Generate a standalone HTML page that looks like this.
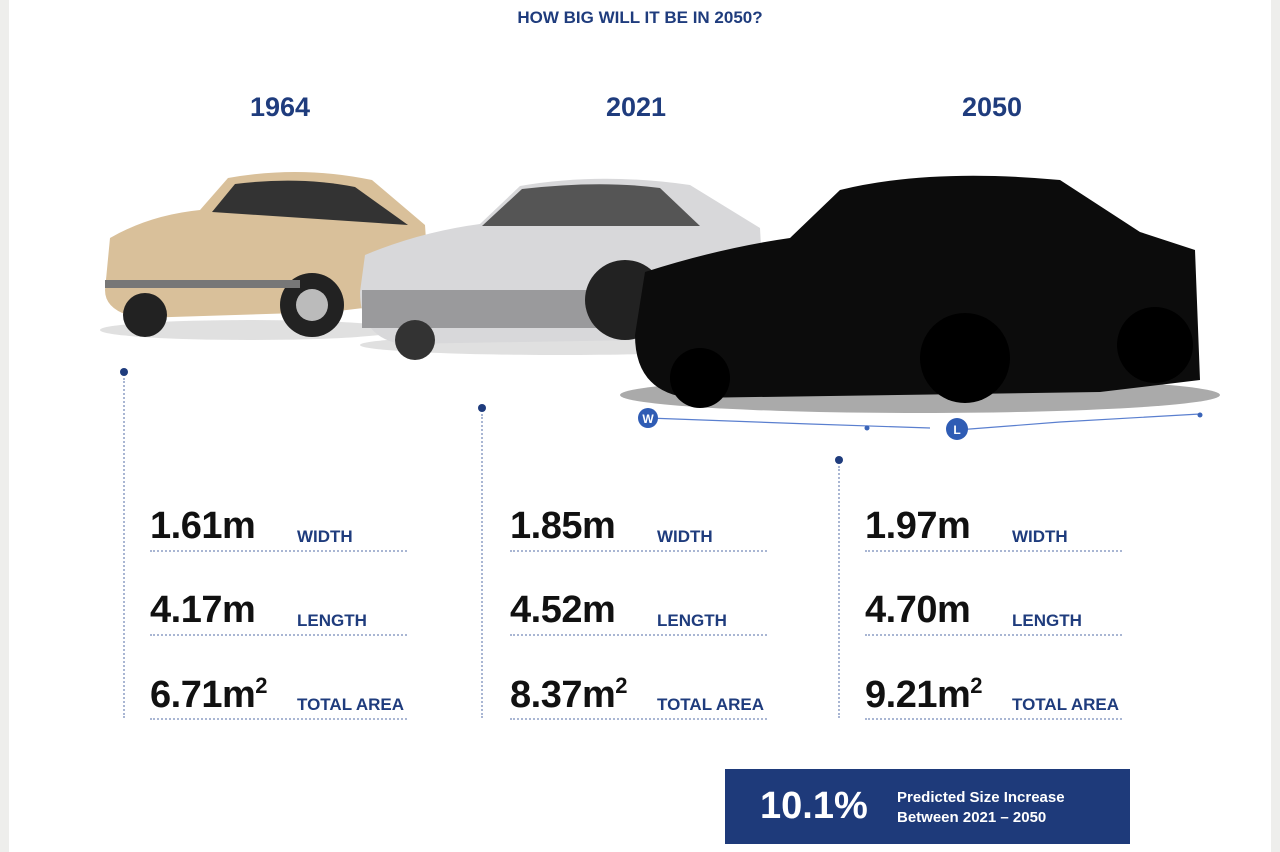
<!DOCTYPE html>
<html><head><meta charset="utf-8"><style>
body{margin:0;width:1280px;height:852px;overflow:hidden;background:#fff;font-family:"Liberation Sans",sans-serif;position:relative}
.edge{position:absolute;top:0;bottom:0;width:9px;background:#eeeeec}
.t{position:absolute;color:#1f3c7d;font-weight:bold}
.num{position:absolute;font-weight:bold;color:#111;font-size:38px;letter-spacing:-0.5px}
.lab{position:absolute;font-weight:bold;color:#1f3c7d;font-size:17px}
.dl{position:absolute;height:0;border-top:2px dotted #a9b6d3;width:257px}
.vl{position:absolute;width:0;border-left:2px dotted #a9b6d3}
.dot{position:absolute;width:8px;height:8px;border-radius:50%;background:#1f3c7d}
</style></head><body>
<div class="edge" style="left:0"></div>
<div class="edge" style="right:0"></div>
<div class="t" style="left:0;width:1280px;text-align:center;top:8px;font-size:17px">HOW BIG WILL IT BE IN 2050?</div>

<svg width="1280" height="460" style="position:absolute;left:0;top:0">
<g>
<ellipse cx="250" cy="330" rx="150" ry="10" fill="#ccc" opacity="0.6"/>
<path d="M105,290 L110,238 Q150,215 200,210 L228,178 Q300,165 372,180 L425,225 L430,300 L330,312 L140,318 Q105,312 105,290Z" fill="#d9c09a"/>
<path d="M212,212 L235,184 Q300,176 355,187 L408,225 Z" fill="#333"/>
<circle cx="145" cy="315" r="22" fill="#222"/><circle cx="312" cy="305" r="32" fill="#222"/><circle cx="312" cy="305" r="16" fill="#bbb"/>
<rect x="105" y="280" width="195" height="8" fill="#777"/>
</g>
<g>
<ellipse cx="560" cy="345" rx="200" ry="10" fill="#ccc" opacity="0.6"/>
<path d="M360,292 L365,255 Q420,232 480,224 L520,186 Q600,172 690,185 L760,228 L765,320 L640,340 L400,344 Q360,336 360,292Z" fill="#d8d8da"/>
<path d="M482,226 L522,189 Q600,180 660,188 L700,226 Z" fill="#555"/>
<rect x="362" y="290" width="235" height="38" fill="#9a9a9c"/>
<circle cx="415" cy="340" r="20" fill="#333"/><circle cx="625" cy="300" r="40" fill="#222"/>
</g>
<g>
<ellipse cx="920" cy="395" rx="300" ry="18" fill="#555" opacity="0.5"/>
<path d="M635,335 L645,272 Q720,248 790,238 L840,190 Q930,168 1060,180 L1140,232 L1195,250 L1200,380 L1100,392 L690,398 Q635,392 635,335Z" fill="#0c0c0c"/>
<circle cx="700" cy="378" r="30" fill="#000"/><circle cx="965" cy="358" r="45" fill="#000"/><circle cx="1155" cy="345" r="38" fill="#000"/>
</g>
<g>
<polyline points="648,418 810,424 930,428" fill="none" stroke="#5a7fcf" stroke-width="1.2"/>
<polyline points="957,430 1060,422 1200,414" fill="none" stroke="#5a7fcf" stroke-width="1.2"/>
<circle cx="1200" cy="415" r="2.5" fill="#3a64b8"/><circle cx="867" cy="428" r="2.5" fill="#3a64b8"/>
<circle cx="648" cy="418" r="10" fill="#2f5cb4"/><text x="648" y="423" text-anchor="middle" fill="#fff" font-size="12" font-weight="bold" font-family="Liberation Sans">W</text>
<circle cx="957" cy="429" r="11" fill="#2f5cb4"/><text x="957" y="434" text-anchor="middle" fill="#fff" font-size="12" font-weight="bold" font-family="Liberation Sans">L</text>
</g>
</svg>

<div id="cols"></div>

<div style="position:absolute;left:725px;top:769px;width:405px;height:75px;background:#1e3a7a;color:#fff">
<div style="position:absolute;left:35px;top:16px;font-size:38px;font-weight:bold">10.1%</div>
<div style="position:absolute;left:172px;top:19px;font-size:15px;font-weight:bold;line-height:20px">Predicted Size Increase<br>Between 2021 – 2050</div>
</div>

<script>
const years=["1964","2021","2050"];
const widths=["1.61","1.85","1.97"];
const lengths=["4.17","4.52","4.70"];
const areas=["6.71","8.37","9.21"];
const colX=[150,510,865], yearX=[280,636,992], vTop=[372,408,460], vX=[123,481,838];
const root=document.getElementById('cols');
function add(cls,style,html){const d=document.createElement('div');d.className=cls;d.style.cssText=style;if(html)d.innerHTML=html;root.appendChild(d);return d;}
years.forEach((y,i)=>{
  const yr=add('t',`left:${yearX[i]-60}px;width:120px;text-align:center;top:92px;font-size:27px`,y);
  
  
  const dot=add('dot',`left:${vX[i]-3}px;top:${vTop[i]-4}px`);
  
  
  const vl=add('vl',`left:${vX[i]}px;top:${vTop[i]+6}px;height:${718-vTop[i]-6}px`);
  
  
  const rows=[[widths[i]+'m','WIDTH'],[lengths[i]+'m','LENGTH'],[areas[i]+'m<sup style="font-size:22px;vertical-align:14px">2</sup>','TOTAL AREA']];
  rows.forEach((r,j)=>{
    const top=505+j*84;
    const n=add('num',`left:${colX[i]}px;top:${top}px`,r[0]);
    
    
    const l=add('lab',`left:${colX[i]+147}px;top:${top+22}px`,r[1]);
    
    
    const d=add('dl',`left:${colX[i]}px;top:${top+45}px`);
    
    
  });
});
</script>
</body></html>
